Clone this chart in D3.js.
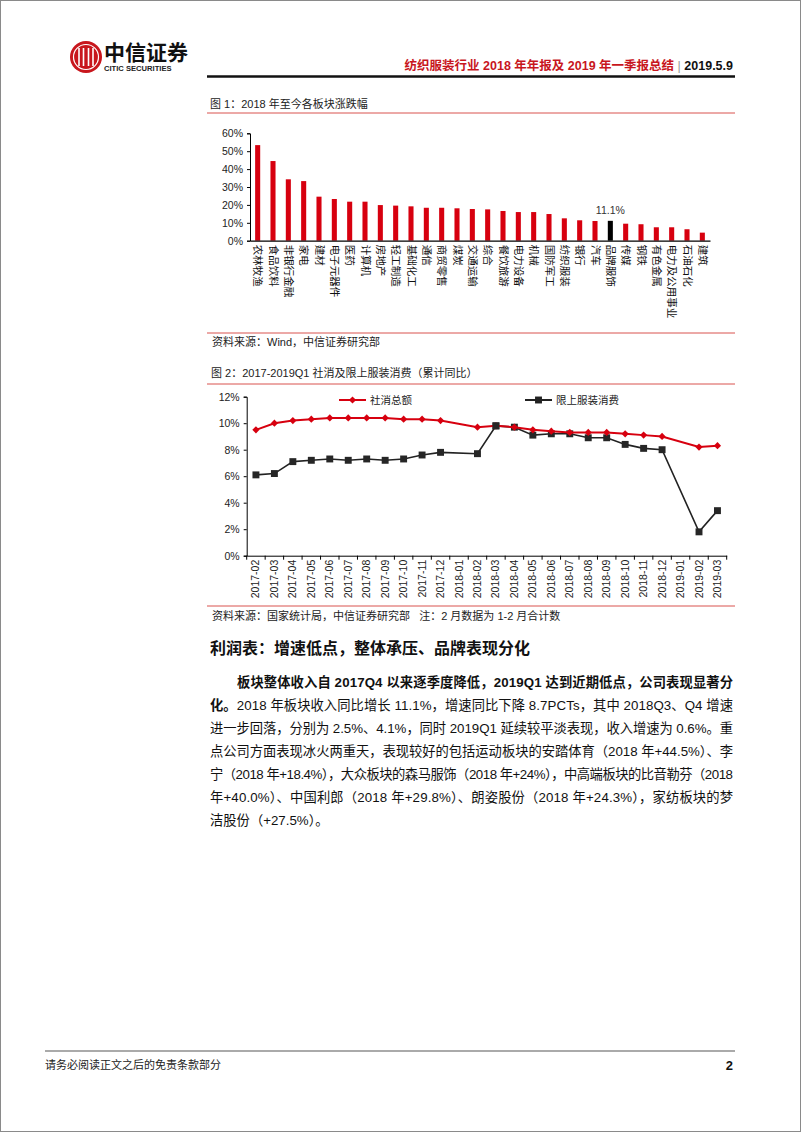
<!DOCTYPE html>
<html>
<head>
<meta charset="utf-8">
<script src="https://cdn.jsdelivr.net/npm/d3@7"></script>
<style>
  html, body { margin: 0; padding: 0; background: #fff; }
  svg { display: block; font-family: "Liberation Sans", Arial, "Noto Sans CJK SC", sans-serif; }
</style>
</head>
<body>
<svg id="page" width="802" height="1133"></svg>
<script>
// chart 1 data: sector returns since 2018 (%)
const sectors = ["农林牧渔", "食品饮料", "非银行金融", "家电", "建材", "电子元器件", "医药", "计算机", "房地产", "轻工制造",
  "基础化工", "通信", "商贸零售", "煤炭", "交通运输", "综合", "餐饮旅游", "电力设备", "机械", "国防军工",
  "纺织服装", "银行", "汽车", "品牌服饰", "传媒", "钢铁", "有色金属", "电力及公用事业", "石油石化", "建筑"];
const sectorReturns = [53.4, 44.5, 34.3, 33.3, 24.6, 23.3, 21.8, 21.8, 19.9, 19.6,
  19.2, 18.4, 18.4, 18.1, 17.7, 17.5, 16.6, 16.0, 16.0, 14.9,
  12.5, 11.4, 11.0, 11.1, 9.5, 9.2, 7.5, 7.5, 6.4, 4.5];
const highlightSector = "品牌服饰";
const barTicks = [0, 10, 20, 30, 40, 50, 60];

// chart 2 data: cumulative yoy (%)
const months = ["2017-02", "2017-03", "2017-04", "2017-05", "2017-06", "2017-07", "2017-08", "2017-09", "2017-10", "2017-11", "2017-12",
  "2018-01", "2018-02", "2018-03", "2018-04", "2018-05", "2018-06", "2018-07", "2018-08", "2018-09", "2018-10", "2018-11", "2018-12",
  "2019-01", "2019-02", "2019-03"];
const retailTotal = [9.5, 10.0, 10.2, 10.3, 10.4, 10.4, 10.4, 10.4, 10.3, 10.3, 10.2,
  null, 9.7, 9.8, 9.7, 9.5, 9.4, 9.3, 9.3, 9.3, 9.2, 9.1, 9.0,
  null, 8.2, 8.3];
const apparelRetail = [6.1, 6.2, 7.1, 7.2, 7.3, 7.2, 7.3, 7.2, 7.3, 7.6, 7.8,
  null, 7.7, 9.8, 9.7, 9.1, 9.2, 9.2, 8.9, 8.9, 8.4, 8.1, 8.0,
  null, 1.8, 3.4];
const lineTicks = [0, 2, 4, 6, 8, 10, 12];
const seriesNames = ["社消总额", "限上服装消费"];

const RED = "#d7000f";
const svg = d3.select("#page");

// page frame
svg.append("rect").attr("x", 0.5).attr("y", 0.5).attr("width", 800).attr("height", 1131)
  .attr("fill", "none").attr("stroke", "#8a8a8a");

// ---------- header ----------
const logo = svg.append("g").attr("transform", "translate(86,57)");
logo.append("circle").attr("r", 16).attr("fill", "#c8161d");
logo.append("circle").attr("r", 12.5).attr("fill", "none").attr("stroke", "#fff").attr("stroke-width", 1.2);
[-7, -2.5, 2.5, 7].forEach(dx => {
  logo.append("line").attr("x1", dx).attr("x2", dx).attr("y1", -9).attr("y2", 9)
    .attr("stroke", "#fff").attr("stroke-width", 1.6);
});
svg.append("text").attr("x", 104).attr("y", 60).attr("font-size", 21).attr("font-weight", "bold")
  .attr("font-family", "Noto Sans CJK SC").attr("fill", "#111").text("中信证券");
svg.append("text").attr("x", 104).attr("y", 71).attr("font-size", 7.6).attr("font-weight", "bold")
  .attr("fill", "#222").text("CITIC SECURITIES");

const head = svg.append("text").attr("x", 733).attr("y", 70).attr("text-anchor", "end")
  .attr("font-size", 12.5).attr("font-weight", "bold");
head.append("tspan").attr("fill", "#c8161d").text("纺织服装行业 2018 年年报及 2019 年一季报总结");
head.append("tspan").attr("fill", "#999").attr("font-weight", "normal").text(" | ");
head.append("tspan").attr("fill", "#111").text("2019.5.9");
svg.append("line").attr("x1", 207).attr("x2", 735).attr("y1", 76.5).attr("y2", 76.5)
  .attr("stroke", "#111").attr("stroke-width", 2.5);

// ---------- figure 1 ----------
svg.append("text").attr("x", 210).attr("y", 108).attr("font-size", 11).attr("fill", "#222")
  .text("图 1：2018 年至今各板块涨跌幅");
svg.append("line").attr("x1", 207).attr("x2", 735).attr("y1", 113).attr("y2", 113)
  .attr("stroke", "#d9534f").attr("stroke-width", 1);

const x1 = d3.scaleBand().domain(sectors).range([250, 710]).paddingInner(0.67).paddingOuter(0.335);
const y1 = d3.scaleLinear().domain([0, 60]).range([240.7, 133.3]);

const g1 = svg.append("g");
g1.selectAll("rect.bar").data(sectors).join("rect").attr("class", "bar")
  .attr("x", d => x1(d))
  .attr("width", x1.bandwidth())
  .attr("y", (d, i) => y1(sectorReturns[i]))
  .attr("height", (d, i) => y1(0) - y1(sectorReturns[i]))
  .attr("fill", d => d === highlightSector ? "#000" : RED);

const yAxis1 = g1.append("g").attr("transform", "translate(250,0)")
  .call(d3.axisLeft(y1).tickValues(barTicks).tickSize(3).tickFormat(d => d + "%"));
yAxis1.selectAll("text").attr("font-size", 10.5).attr("fill", "#222").attr("font-family", "Liberation Sans").attr("dx", -1);
yAxis1.select(".domain").attr("stroke", "#000");

const xAxis1 = g1.append("g").attr("transform", `translate(0,${y1(0)})`)
  .call(d3.axisBottom(x1).tickSize(0).tickFormat(""));
xAxis1.select(".domain").attr("stroke", "#000").attr("stroke-width", 1.2);

g1.selectAll("text.cat").data(sectors).join("text").attr("class", "cat")
  .attr("transform", d => `translate(${x1(d) + x1.bandwidth() / 2 - 3.5},${y1(0) + 4}) rotate(90)`)
  .attr("font-size", 10.5).attr("font-family", "Noto Sans CJK SC").attr("fill", "#111")
  .text(d => d);

const hi = sectors.indexOf(highlightSector);
g1.append("text").attr("x", x1(highlightSector) + x1.bandwidth() / 2).attr("y", y1(sectorReturns[hi]) - 7)
  .attr("text-anchor", "middle").attr("font-size", 10.5).attr("fill", "#333")
  .text(sectorReturns[hi].toFixed(1) + "%");

svg.append("line").attr("x1", 207).attr("x2", 735).attr("y1", 333).attr("y2", 333)
  .attr("stroke", "#d9534f").attr("stroke-width", 1);
svg.append("text").attr("x", 212).attr("y", 346).attr("font-size", 11).attr("fill", "#222")
  .text("资料来源：Wind，中信证券研究部");

// ---------- figure 2 ----------
svg.append("text").attr("x", 211).attr("y", 377).attr("font-size", 11).attr("fill", "#222")
  .text("图 2：2017-2019Q1 社消及限上服装消费（累计同比）");
svg.append("line").attr("x1", 207).attr("x2", 735).attr("y1", 384).attr("y2", 384)
  .attr("stroke", "#d9534f").attr("stroke-width", 1);

const x2 = d3.scaleBand().domain(months).range([246.7, 726.7]);
const y2 = d3.scaleLinear().domain([0, 12]).range([555.7, 396.7]);
const g2 = svg.append("g");

const yAxis2 = g2.append("g").attr("transform", "translate(246.7,0)")
  .call(d3.axisLeft(y2).tickValues(lineTicks).tickSize(3).tickFormat(d => d + "%"));
yAxis2.selectAll("text").attr("font-size", 10.5).attr("fill", "#222").attr("dx", -1);
yAxis2.select(".domain").attr("stroke", "#000");

const xAxis2 = g2.append("g").attr("transform", `translate(0,${y2(0)})`)
  .call(d3.axisBottom(x2).tickSize(0).tickPadding(4));
xAxis2.select(".domain").attr("stroke", "#000");
xAxis2.selectAll("text").attr("font-size", 10.5).attr("fill", "#222")
  .attr("transform", "rotate(-90)").attr("text-anchor", "end")
  .attr("dx", -4).attr("dy", 0).attr("x", 0).attr("y", 3.5);
// band separator ticks
xAxis2.selectAll("line.sep").data(months.concat(["end"])).join("line").attr("class", "sep")
  .attr("x1", d => d === "end" ? 726.7 : x2(d)).attr("x2", d => d === "end" ? 726.7 : x2(d))
  .attr("y1", 0).attr("y2", 4).attr("stroke", "#000");

const cx = m => x2(m) + x2.bandwidth() / 2;
const seriesData = [retailTotal, apparelRetail].map(vals =>
  months.map((m, i) => ({ m, v: vals[i] })).filter(d => d.v !== null));

const line = d3.line().x(d => cx(d.m)).y(d => y2(d.v));
const diamond = d3.symbol().type(d3.symbolSquare).size(26);
const square = d3.symbol().type(d3.symbolSquare).size(48);

// apparel (black, squares) first, retail total on top
g2.append("path").datum(seriesData[1]).attr("d", line)
  .attr("fill", "none").attr("stroke", "#222").attr("stroke-width", 1.6);
g2.selectAll("path.sq").data(seriesData[1]).join("path").attr("class", "sq")
  .attr("transform", d => `translate(${cx(d.m)},${y2(d.v)})`).attr("d", square).attr("fill", "#262626");

g2.append("path").datum(seriesData[0]).attr("d", line)
  .attr("fill", "none").attr("stroke", RED).attr("stroke-width", 2);
g2.selectAll("path.dm").data(seriesData[0]).join("path").attr("class", "dm")
  .attr("transform", d => `translate(${cx(d.m)},${y2(d.v)}) rotate(45)`).attr("d", diamond).attr("fill", RED);

// black square at 2018-03 sits on top of the red marker
g2.selectAll("path.sq2").data(seriesData[1].filter(d => d.m === "2018-03")).join("path").attr("class", "sq2")
  .attr("transform", d => `translate(${cx(d.m)},${y2(d.v)})`).attr("d", square).attr("fill", "#262626");

// legend
const lg = g2.append("g");
const legendItems = [
  { name: seriesNames[0], x: 339, color: RED, sym: diamond, rot: 45 },
  { name: seriesNames[1], x: 525, color: "#222", sym: square, rot: 0 }
];
legendItems.forEach(it => {
  lg.append("line").attr("x1", it.x).attr("x2", it.x + 27).attr("y1", 400).attr("y2", 400)
    .attr("stroke", it.color).attr("stroke-width", 2);
  lg.append("path").attr("transform", `translate(${it.x + 13.5},400) rotate(${it.rot})`).attr("d", it.sym).attr("fill", it.color);
  lg.append("text").attr("x", it.x + 31).attr("y", 404).attr("font-size", 10.5)
    .attr("font-family", "Noto Sans CJK SC").attr("fill", "#222").text(it.name);
});

svg.append("line").attr("x1", 207).attr("x2", 735).attr("y1", 606).attr("y2", 606)
  .attr("stroke", "#d9534f").attr("stroke-width", 1);
svg.append("text").attr("x", 212).attr("y", 620).attr("font-size", 11).attr("fill", "#222")
  .attr("xml:space", "preserve")
  .text("资料来源：国家统计局，中信证券研究部   注：2 月数据为 1-2 月合计数");

// ---------- text section ----------
svg.append("text").attr("x", 210).attr("y", 654).attr("font-size", 16).attr("font-weight", "bold")
  .attr("font-family", "Noto Sans CJK SC").attr("fill", "#111")
  .text("利润表：增速低点，整体承压、品牌表现分化");

const paraLines = [
  [["板块整体收入自 2017Q4 以来逐季度降低，2019Q1 达到近期低点，公司表现显著分", true]],
  [["化。", true], ["2018 年板块收入同比增长 11.1%，增速同比下降 8.7PCTs，其中 2018Q3、Q4 增速", false]],
  [["进一步回落，分别为 2.5%、4.1%，同时 2019Q1 延续较平淡表现，收入增速为 0.6%。重", false]],
  [["点公司方面表现冰火两重天，表现较好的包括运动板块的安踏体育（2018 年+44.5%）、李", false]],
  [["宁（2018 年+18.4%），大众板块的森马服饰（2018 年+24%），中高端板块的比音勒芬（2018", false]],
  [["年+40.0%）、中国利郎（2018 年+29.8%）、朗姿股份（2018 年+24.3%），家纺板块的梦", false]],
  [["洁股份（+27.5%）。", false]]
];
paraLines.forEach((parts, i) => {
  const x0 = i === 0 ? 237 : 210;
  const t = svg.append("text").attr("x", x0).attr("y", 687 + i * 23)
    .attr("font-size", 13.3).attr("fill", "#111");
  if (i < paraLines.length - 1) t.attr("textLength", 733 - x0).attr("lengthAdjust", "spacing");
  parts.forEach(([s, bold]) => t.append("tspan").attr("font-weight", bold ? "bold" : "normal").text(s));
});

// ---------- footer ----------
svg.append("line").attr("x1", 45).attr("x2", 735).attr("y1", 1051).attr("y2", 1051)
  .attr("stroke", "#aaa").attr("stroke-width", 2);
svg.append("text").attr("x", 45).attr("y", 1069).attr("font-size", 11).attr("fill", "#222")
  .text("请务必阅读正文之后的免责条款部分");
svg.append("text").attr("x", 733).attr("y", 1070).attr("text-anchor", "end").attr("font-size", 13)
  .attr("font-weight", "bold").attr("fill", "#111").text("2");
</script>
</body>
</html>
